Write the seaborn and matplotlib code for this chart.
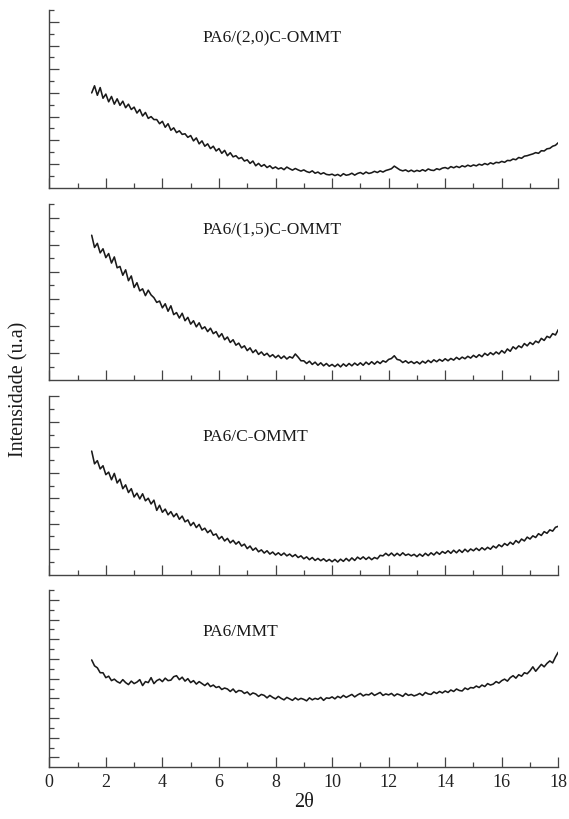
import numpy as np
import pandas as pd
import matplotlib
matplotlib.use("Agg")
import matplotlib.pyplot as plt
from matplotlib.ticker import MultipleLocator, FixedLocator
import seaborn as sns

sns.set_theme(style="ticks")
plt.rcParams['font.family'] = ['Liberation Serif', 'DejaVu Serif']

# 2-theta grid of the scans (step 0.1 deg)
two_theta = np.round(np.linspace(1.5, 18.0, 166), 1)

# intensities (arbitrary units, one list per sample)
pa6_20c_ommt = [
    8.0, 8.6, 7.8, 8.45, 7.55,
    7.9, 7.25, 7.7, 7.05, 7.5, 6.95, 7.3, 6.75, 7.05, 6.6,
    6.8, 6.3, 6.6, 6.05, 6.35, 5.85, 6.0, 5.75, 5.75, 5.4,
    5.6, 5.1, 5.4, 4.85, 5.05, 4.65, 4.8, 4.5, 4.55, 4.25,
    4.4, 3.95, 4.2, 3.7, 3.95, 3.5, 3.7, 3.3, 3.5, 3.1,
    3.3, 2.9, 3.15, 2.7, 2.95, 2.6, 2.7, 2.45, 2.55, 2.25,
    2.35, 2.05, 2.25, 1.85, 2.05, 1.8, 1.95, 1.7, 1.85, 1.62,
    1.75, 1.58, 1.68, 1.52, 1.74, 1.6, 1.48, 1.62, 1.5, 1.4,
    1.5, 1.36, 1.28, 1.42, 1.22, 1.32, 1.15, 1.26, 1.12, 1.08,
    1.14, 1.02, 1.12, 0.98, 1.18, 1.05, 1.1, 1.22, 1.06, 1.2,
    1.28, 1.15, 1.32, 1.2, 1.26, 1.38, 1.28, 1.42, 1.32, 1.45,
    1.52, 1.6, 1.82, 1.66, 1.5, 1.42, 1.5, 1.36, 1.48, 1.35,
    1.46, 1.38, 1.52, 1.4, 1.58, 1.48, 1.45, 1.6, 1.52, 1.65,
    1.7, 1.6, 1.78, 1.68, 1.8, 1.7, 1.85, 1.76, 1.9, 1.8,
    1.92, 1.84, 1.98, 1.9, 2.04, 1.94, 2.1, 2.0, 2.14, 2.1,
    2.22, 2.14, 2.3, 2.28, 2.42, 2.36, 2.55, 2.48, 2.66, 2.7,
    2.78, 2.85, 2.96, 2.9, 3.12, 3.1, 3.28, 3.32, 3.5, 3.58,
    3.8,
]
pa6_15c_ommt = [
    10.7, 9.8, 10.1, 9.4, 9.7,
    9.05, 9.35, 8.65, 9.1, 8.3, 8.4, 7.75, 8.15, 7.35, 7.7,
    6.85, 7.2, 6.6, 6.75, 6.25, 6.65, 6.3, 6.1, 5.75, 5.85,
    5.35, 5.65, 5.1, 5.5, 4.85, 5.0, 4.6, 4.95, 4.4, 4.65,
    4.15, 4.4, 3.95, 4.25, 3.8, 3.95, 3.6, 3.85, 3.45, 3.6,
    3.2, 3.45, 3.0, 3.2, 2.8, 3.0, 2.6, 2.75, 2.4, 2.55,
    2.2, 2.4, 2.05, 2.25, 1.92, 2.1, 1.85, 2.0, 1.75, 1.9,
    1.68, 1.85, 1.62, 1.8, 1.58, 1.75, 1.65, 1.95, 1.72, 1.45,
    1.45, 1.25, 1.42, 1.18, 1.35, 1.12, 1.3, 1.08, 1.25, 1.05,
    1.18, 1.02, 1.2, 1.0, 1.22, 1.05, 1.25, 1.08, 1.28, 1.12,
    1.3, 1.12, 1.35, 1.18, 1.38, 1.2, 1.4, 1.25, 1.45, 1.35,
    1.55, 1.62, 1.82, 1.55, 1.5, 1.32, 1.45, 1.28, 1.4, 1.25,
    1.38, 1.22, 1.42, 1.28, 1.48, 1.32, 1.52, 1.38, 1.55, 1.42,
    1.6, 1.45, 1.62, 1.5, 1.7, 1.55, 1.72, 1.6, 1.78, 1.65,
    1.85, 1.7, 1.9, 1.75, 2.0, 1.85, 2.05, 1.9, 2.1, 1.95,
    2.2, 2.02, 2.32, 2.15, 2.48, 2.32, 2.55, 2.42, 2.72, 2.55,
    2.8, 2.65, 2.9, 2.78, 3.1, 2.95, 3.25, 3.15, 3.45, 3.35,
    3.75,
]
pa6_c_ommt = [
    9.7, 8.7, 8.95, 8.3, 8.55,
    7.85, 8.05, 7.45, 7.95, 7.2, 7.5, 6.75, 7.05, 6.45, 6.75,
    6.1, 6.4, 5.95, 6.35, 5.8, 6.0, 5.55, 5.85, 5.05, 5.45,
    4.9, 5.15, 4.7, 4.95, 4.55, 4.8, 4.35, 4.6, 4.15, 4.3,
    3.85, 4.1, 3.7, 3.95, 3.5, 3.65, 3.3, 3.5, 3.1, 3.2,
    2.8, 3.0, 2.65, 2.85, 2.5, 2.7, 2.4, 2.6, 2.25, 2.4,
    2.05, 2.25, 1.92, 2.1, 1.8, 1.95, 1.7, 1.88, 1.62, 1.78,
    1.55, 1.72, 1.52, 1.7, 1.48, 1.62, 1.42, 1.58, 1.35, 1.48,
    1.25, 1.4, 1.18, 1.35, 1.12, 1.28, 1.1, 1.25, 1.05, 1.2,
    1.02, 1.2, 1.0, 1.22, 1.05, 1.28, 1.08, 1.32, 1.12, 1.38,
    1.22, 1.4, 1.2, 1.38, 1.18, 1.35, 1.25, 1.52, 1.48, 1.68,
    1.5, 1.7, 1.48, 1.68, 1.5, 1.72, 1.52, 1.62, 1.48, 1.6,
    1.42, 1.62, 1.45, 1.68, 1.5, 1.72, 1.55, 1.78, 1.6, 1.82,
    1.68, 1.88, 1.68, 1.92, 1.72, 1.95, 1.75, 2.0, 1.8, 2.02,
    1.88, 2.08, 1.9, 2.12, 1.95, 2.15, 2.0, 2.25, 2.1, 2.35,
    2.2, 2.45, 2.3, 2.55, 2.38, 2.68, 2.5, 2.8, 2.65, 2.95,
    2.8, 3.05, 2.92, 3.22, 3.08, 3.38, 3.25, 3.52, 3.42, 3.72,
    3.8,
]
pa6_mmt = [
    10.9, 10.3, 10.1, 9.6, 9.6,
    9.1, 9.25, 8.8, 8.95, 8.7, 8.55, 8.9, 8.6, 8.4, 8.75,
    8.5, 8.65, 8.9, 8.3, 8.7, 8.6, 9.1, 8.5, 8.8, 8.95,
    8.7, 9.05, 8.8, 8.85, 9.2, 9.3, 8.9, 9.15, 8.75, 9.0,
    8.6, 8.8, 8.45, 8.7, 8.5, 8.3, 8.55, 8.2, 8.35, 8.1,
    8.2, 7.9, 8.05, 7.95, 7.7, 7.95, 7.6, 7.8, 7.75, 7.5,
    7.65, 7.35, 7.55, 7.45, 7.2, 7.4, 7.3, 7.05, 7.3, 7.1,
    6.95, 7.2, 7.0, 6.85, 7.1, 6.95, 6.8, 7.05, 6.85, 7.0,
    6.9, 6.75, 7.05, 6.85, 7.0, 6.9, 7.1, 6.8, 7.05, 7.0,
    7.15, 6.95, 7.2, 7.05, 7.3, 7.1, 7.25, 7.4, 7.15, 7.35,
    7.5, 7.25, 7.4, 7.35, 7.55, 7.3, 7.45, 7.6, 7.3, 7.45,
    7.35, 7.5, 7.25, 7.45, 7.35, 7.2, 7.5, 7.3, 7.4, 7.25,
    7.35, 7.5, 7.3, 7.6, 7.45, 7.4, 7.65, 7.5, 7.7, 7.55,
    7.75, 7.6, 7.85, 7.7, 7.95, 7.8, 7.75, 8.05, 7.9, 8.1,
    8.05, 8.25, 8.1, 8.35, 8.2, 8.5, 8.35, 8.45, 8.7, 8.55,
    8.8, 8.95, 8.75, 9.1, 9.3, 9.05, 9.4, 9.25, 9.6, 9.5,
    9.8, 10.2, 9.75, 10.1, 10.45, 10.2, 10.55, 10.8, 10.6, 11.2,
    11.7,
]

samples = ["PA6/(2,0)C-OMMT", "PA6/(1,5)C-OMMT", "PA6/C-OMMT", "PA6/MMT"]
series = [pa6_20c_ommt, pa6_15c_ommt, pa6_c_ommt, pa6_mmt]
y_tops = [15, 13, 14, 18]
# (major ticks, minor ticks) on each y axis
y_major = [range(2, 15, 2), range(2, 13, 2), range(2, 15, 2), range(1, 18, 2)]
y_minor = [range(1, 16, 2), range(1, 14, 2), range(1, 14, 2), range(2, 19, 2)]
label_y = [0.822, 0.836, 0.755, 0.746]

# panel boxes in figure fraction (left, bottom, width, height)
boxes = [
    (0.0866, 0.7699, 0.8946, 0.2167),
    (0.0866, 0.5348, 0.8946, 0.2152),
    (0.0866, 0.2979, 0.8946, 0.2176),
    (0.0866, 0.0630, 0.8946, 0.2163),
]

fig = plt.figure(figsize=(5.69, 8.2), dpi=100)
ink = '#1a1a1a'

for i, (name, vals) in enumerate(zip(samples, series)):
    ax = fig.add_axes(boxes[i])
    df = pd.DataFrame({'two_theta': two_theta, 'intensity': vals})
    sns.lineplot(data=df, x='two_theta', y='intensity', ax=ax,
                 color=ink, linewidth=1.15, estimator=None)

    ax.set_xlim(0, 18)
    ax.set_ylim(0, y_tops[i])
    sns.despine(ax=ax)
    for side in ['left', 'bottom']:
        ax.spines[side].set_color('#444444')
        ax.spines[side].set_linewidth(1.0)

    ax.xaxis.set_major_locator(MultipleLocator(2))
    ax.xaxis.set_minor_locator(MultipleLocator(1))
    ax.yaxis.set_major_locator(FixedLocator(list(y_major[i])))
    ax.yaxis.set_minor_locator(FixedLocator(list(y_minor[i])))
    ax.tick_params(which='major', direction='in', length=7.5, width=0.9,
                   color='#444444', labelsize=13, pad=4)
    ax.tick_params(which='minor', direction='in', length=3.5, width=0.9,
                   color='#444444')
    ax.tick_params(axis='y', which='both', labelleft=False)
    if i < 3:
        ax.tick_params(axis='x', which='both', labelbottom=False)
    else:
        ax.tick_params(axis='x', labelcolor='#222222')
    ax.set_xlabel('')
    ax.set_ylabel('')

    ax.text(5.4, label_y[i], name, transform=ax.get_xaxis_transform(),
            fontsize=12.5, color=ink, ha='left', va='baseline')

fig.text(0.534, 0.021, '2θ', ha='center', va='center', fontsize=14.5, color=ink)
fig.text(0.034, 0.525, 'Intensidade (u.a)', ha='center', va='center',
         rotation=90, fontsize=14.5, color=ink)

fig.savefig('out.png', dpi=100)
